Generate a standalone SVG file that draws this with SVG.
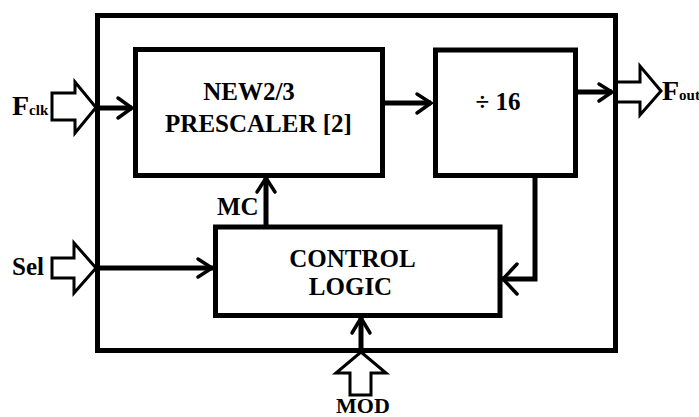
<svg xmlns="http://www.w3.org/2000/svg" width="699" height="417" viewBox="0 0 699 417">
<style>
.box{fill:none;stroke:#000;stroke-width:5}
.ln{fill:none;stroke:#000;stroke-width:5}
.ah{fill:none;stroke:#000;stroke-width:3.5;stroke-linecap:round;stroke-linejoin:miter}
.blk{fill:#fff;stroke:#000;stroke-width:3;stroke-linejoin:miter}
.t{font-size:25px}
</style>
<rect width="699" height="417" fill="#fff"/>
<g font-family="'Liberation Serif', 'Times New Roman', serif" font-weight="bold" fill="#000">
<g id="outer"><rect class="box" x="97.5" y="15.5" width="518" height="335"/></g>
<g id="prescaler">
<rect class="box" x="135.5" y="49.5" width="247" height="126"/>
<text class="t" x="249" y="100" text-anchor="middle">NEW2/3</text>
<text class="t" x="258.5" y="132" text-anchor="middle">PRESCALER [2]</text>
</g>
<g id="div16">
<rect class="box" x="435.5" y="50" width="140" height="125.5"/>
<text class="t" x="498" y="110" text-anchor="middle">÷ 16</text>
</g>
<g id="control">
<rect class="box" x="215.5" y="227" width="284.5" height="88.5"/>
<text class="t" x="352.5" y="267" text-anchor="middle">CONTROL</text>
<text class="t" x="350.5" y="295" text-anchor="middle">LOGIC</text>
</g>
<g id="fclk">
<polygon class="blk" points="52,93 75,93 75,82 96,107.5 75,133 75,120 52,120"/>
<text x="12" y="115" font-size="28">F<tspan font-size="15">clk</tspan></text>
</g>
<g id="sel">
<polygon class="blk" points="52,258 74,258 74,243 96,268 74,293 74,278 52,278"/>
<text class="t" x="12" y="275">Sel</text>
</g>
<g id="fout">
<polyline class="blk" points="618,82 640,82 640,66 661,91 640,115 640,102 618,102"/>
<text x="662" y="100" font-size="28">F<tspan font-size="15">out</tspan></text>
</g>
<g id="mod">
<polygon class="blk" points="361,352 386,373 371,373 371,395 350,395 350,373 336,373"/>
<text x="363" y="413" font-size="22" text-anchor="middle">MOD</text>
</g>
<g id="mclabel"><text class="t" x="217" y="215">MC</text></g>
<g id="connectors">
<line class="ln" x1="97" y1="108" x2="132" y2="108"/>
<polyline class="ah" points="118,98 132,108 118,118"/>
<line class="ln" x1="382" y1="103" x2="431" y2="103"/>
<polyline class="ah" points="417,94 431,103 417,113"/>
<line class="ln" x1="575" y1="92" x2="612" y2="92"/>
<polyline class="ah" points="599,84 612,92 599,101"/>
<line class="ln" x1="97" y1="268" x2="213" y2="268"/>
<polyline class="ah" points="198,259 212,268 198,277"/>
<line class="ln" x1="266" y1="227" x2="266" y2="178"/>
<polyline class="ah" points="257,192 266,178 275,192"/>
<polyline class="ln" points="535,175 535,279 502,279"/>
<polyline class="ah" points="517,264 503,279 517,294"/>
<line class="ln" x1="361" y1="350" x2="361" y2="318"/>
<polyline class="ah" points="352,333 361,318 370,333"/>
</g>
</g>
</svg>
